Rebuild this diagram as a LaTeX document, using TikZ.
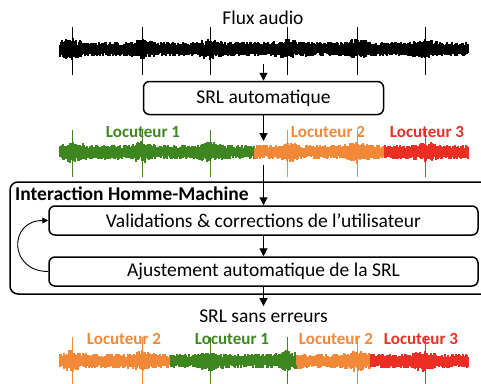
\documentclass[tikz,border=0pt]{standalone}
\usepackage{fontspec}
\setmainfont{Carlito}
\usetikzlibrary{arrows.meta}
\definecolor{vert}{RGB}{62,134,32}
\definecolor{orangeloc}{RGB}{242,137,56}
\definecolor{rouge}{RGB}{236,46,36}

\begin{document}
\begin{tikzpicture}[x=1pt,y=-1pt,
  texte/.style={font=\fontsize{19.5}{22}\selectfont},
  boite/.style={texte, draw, line width=1.5pt, rounded corners=6pt, inner sep=0pt},
  fleche/.style={line width=1.2pt, -{Triangle[length=8pt,width=8pt]}},
  loc/.style={font=\fontsize{17}{20}\selectfont\bfseries}]
\clip (0,0) rectangle (481,383);

% signaux
\pgfmathsetseed{3}
\foreach \xa/\xb/\yc/\coul in {60/468/49/black,
  60/254/152/vert, 255/384/152/orangeloc, 385/468/152/rouge,
  60/170/361/orangeloc, 171/296/361/vert, 297/370/361/orangeloc, 371/468/361/rouge}
{
  \foreach \i in {\xa,...,\xb}
  {
    \pgfmathsetmacro\bosse{max(0,5-abs(\i-72)/3)+max(0,5-abs(\i-142)/3)+max(0,5-abs(\i-210)/3)+max(0,5-abs(\i-287)/3)+max(0,5-abs(\i-357)/3)+max(0,5-abs(\i-425)/3)}
    \pgfmathsetmacro\ha{3.5+4*rnd+\bosse*rnd}
    \pgfmathsetmacro\hb{3.5+4*rnd+\bosse*rnd}
    \draw[\coul, line width=1.2pt] (\i,\yc-\ha) -- (\i,\yc+\hb);
  }
}
\foreach \s in {72,142,210,287,357,425}
{
  \draw[black, line width=0.8pt] (\s,27) -- (\s,75);
}
\foreach \s/\coul in {72/vert,142/vert,210/vert,287/orangeloc,357/orangeloc,425/rouge}
{
  \draw[\coul, line width=0.8pt] (\s,130) -- (\s,177);
}
\foreach \s/\coul in {72/orangeloc,142/orangeloc,210/vert,287/vert,357/orangeloc,425/rouge}
{
  \draw[\coul, line width=0.8pt] (\s,337) -- (\s,390);
}

\node[texte] (flux) at (263,18) {Flux audio};
\node[boite, minimum width=240pt, minimum height=33pt] (srl) at (263.5,98) {SRL automatique};

\node[loc, text=vert] (loc1a) at (143,132) {Locuteur 1};
\node[loc, text=orangeloc] (loc2a) at (328,132) {Locuteur 2};
\node[loc, text=rouge] (loc3a) at (427,132) {Locuteur 3};

\node[draw, line width=1.5pt, rounded corners=8pt, minimum width=480pt, minimum height=112pt] (ihm) at (250,238) {};
\node[texte, font=\fontsize{19.5}{22}\selectfont\bfseries, anchor=west, inner sep=0pt] (titre) at (15,194) {Interaction Homme-Machine};
\node[boite, minimum width=429pt, minimum height=29pt] (valid) at (263.5,220.5) {Validations \& corrections de l’utilisateur};
\node[boite, minimum width=429pt, minimum height=29pt] (ajust) at (263.5,271.5) {Ajustement automatique de la SRL};

\node[texte] (sanserr) at (263.5,316) {SRL sans erreurs};

\node[loc, text=orangeloc] (loc2b) at (124,339) {Locuteur 2};
\node[loc, text=vert] (loc1b) at (232,339) {Locuteur 1};
\node[loc, text=orangeloc] (loc2c) at (336,339) {Locuteur 2};
\node[loc, text=rouge] (loc3b) at (421,339) {Locuteur 3};

\coordinate (w1) at (263.5,64);
\coordinate (w2) at (263.5,141);
\coordinate (w3) at (263.5,165);

\draw[fleche] (w1) -- (srl.north);
\draw[fleche] (srl.south) -- (w2);
\draw[fleche] (w3) -- (valid.north);
\draw[fleche] (valid.south) -- (ajust.north);
\draw[fleche] (ajust.south) -- (sanserr.north);
\draw[line width=0.9pt, -{Triangle[length=6pt,width=6pt]}] (ajust.west) to[out=180,in=180,looseness=2] (valid.west);

\end{tikzpicture}
\end{document}
